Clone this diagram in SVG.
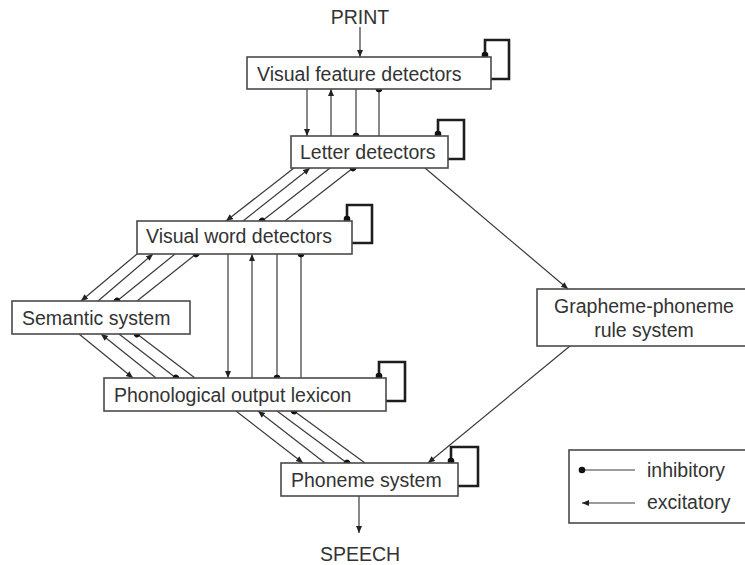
<svg xmlns="http://www.w3.org/2000/svg" width="745" height="565" viewBox="0 0 745 565">
  <style>
    .box { fill: #ffffff; stroke: #4a4a4a; stroke-width: 1.6; }
    .lbl { font-family: "Liberation Sans", Arial, sans-serif; font-size: 19.5px; fill: #333333; }
    .link { fill: none; stroke: #3a3a3a; stroke-width: 1.2; }
    .exc { marker-end: url(#arrow); }
    .inh { marker-end: url(#dot); }
    .loop { fill: none; stroke: #1e1e1e; stroke-width: 2.6; marker-start: url(#dot); }
  </style>
  <defs>
    <marker id="arrow" markerUnits="userSpaceOnUse" markerWidth="8" markerHeight="7" refX="7" refY="3" orient="auto">
      <path d="M0,0 L7,3 L0,6 z" fill="#222222"/>
    </marker>
    <marker id="dot" markerUnits="userSpaceOnUse" markerWidth="8" markerHeight="8" refX="4" refY="4" orient="auto">
      <circle cx="4" cy="4" r="3.3" fill="#111111"/>
    </marker>
  </defs>

  <rect width="745" height="565" fill="#ffffff"/>

  <!-- connectors -->
  <g id="connectors">
    <!-- input / output -->
    <path class="link exc" d="M360,27 V57"/>
    <path class="link exc" d="M359,496 V533"/>

    <!-- visual features <-> letters -->
    <path class="link exc" d="M307,89 V136"/>
    <path class="link exc" d="M331,136 V89"/>
    <path class="link inh" d="M356,89 V136"/>
    <path class="link inh" d="M379,136 V89"/>

    <!-- letters <-> visual words -->
    <path class="link exc" d="M294,168 L226,221"/>
    <path class="link exc" d="M243,221 L310,168"/>
    <path class="link inh" d="M330,168 L262,221"/>
    <path class="link inh" d="M285,221 L353,168"/>

    <!-- visual words <-> semantic -->
    <path class="link exc" d="M137,254 L81,301"/>
    <path class="link exc" d="M98,301 L153,254"/>
    <path class="link inh" d="M175,254 L117,301"/>
    <path class="link inh" d="M137,301 L196,254"/>

    <!-- semantic <-> phonological output -->
    <path class="link exc" d="M79,334 L133,378"/>
    <path class="link exc" d="M156,378 L101,334"/>
    <path class="link inh" d="M119,334 L176,378"/>
    <path class="link inh" d="M195,378 L137,334"/>

    <!-- visual words <-> phonological output -->
    <path class="link exc" d="M228,254 V378"/>
    <path class="link exc" d="M252,378 V254"/>
    <path class="link inh" d="M277,254 V378"/>
    <path class="link inh" d="M301,378 V254"/>

    <!-- phonological output <-> phonemes -->
    <path class="link exc" d="M236,411 L303,463"/>
    <path class="link exc" d="M325,463 L258,411"/>
    <path class="link inh" d="M277,411 L347,463"/>
    <path class="link inh" d="M365,463 L294,411"/>

    <!-- non-lexical route -->
    <path class="link exc" d="M425,168 L568,289"/>
    <path class="link exc" d="M570,346 L428,463"/>

    <!-- within-level inhibition -->
    <path class="loop" d="M485,55 V40 H509 V79 H491"/>
    <path class="loop" d="M438,134 V120 H464 V159 H448"/>
    <path class="loop" d="M347,219 V205 H372 V243 H352"/>
    <path class="loop" d="M379,376 V362 H405 V401 H386"/>
    <path class="loop" d="M451,461 V447 H478 V486 H458"/>
  </g>

  <!-- terminals -->
  <g id="print">
    <text class="lbl" x="360" y="24" text-anchor="middle">PRINT</text>
  </g>
  <g id="speech">
    <text class="lbl" x="360" y="561" text-anchor="middle">SPEECH</text>
  </g>

  <!-- nodes -->
  <g id="visual-feature-detectors">
    <rect class="box" x="247" y="57" width="244" height="32"/>
    <text class="lbl" x="257" y="81">Visual feature detectors</text>
  </g>
  <g id="letter-detectors">
    <rect class="box" x="291" y="136" width="157" height="32"/>
    <text class="lbl" x="300" y="159">Letter detectors</text>
  </g>
  <g id="visual-word-detectors">
    <rect class="box" x="137" y="221" width="215" height="33"/>
    <text class="lbl" x="146" y="243">Visual word detectors</text>
  </g>
  <g id="semantic-system">
    <rect class="box" x="12" y="301" width="178" height="33"/>
    <text class="lbl" x="22" y="325">Semantic system</text>
  </g>
  <g id="phonological-output-lexicon">
    <rect class="box" x="104" y="378" width="282" height="33"/>
    <text class="lbl" x="114" y="402">Phonological output lexicon</text>
  </g>
  <g id="phoneme-system">
    <rect class="box" x="281" y="463" width="177" height="33"/>
    <text class="lbl" x="291" y="487">Phoneme system</text>
  </g>
  <g id="grapheme-phoneme-rule-system">
    <rect class="box" x="537" y="289" width="212" height="57"/>
    <text class="lbl" x="644" y="313" text-anchor="middle">Grapheme-phoneme</text>
    <text class="lbl" x="644" y="337" text-anchor="middle">rule system</text>
  </g>

  <!-- key -->
  <g id="legend">
    <rect class="box" x="569" y="450" width="180" height="73"/>
    <path class="link" d="M635,470 H582" marker-end="url(#dot)"/>
    <path class="link exc" d="M635,503 H582"/>
    <text class="lbl" x="647" y="477">inhibitory</text>
    <text class="lbl" x="647" y="509">excitatory</text>
  </g>
</svg>
